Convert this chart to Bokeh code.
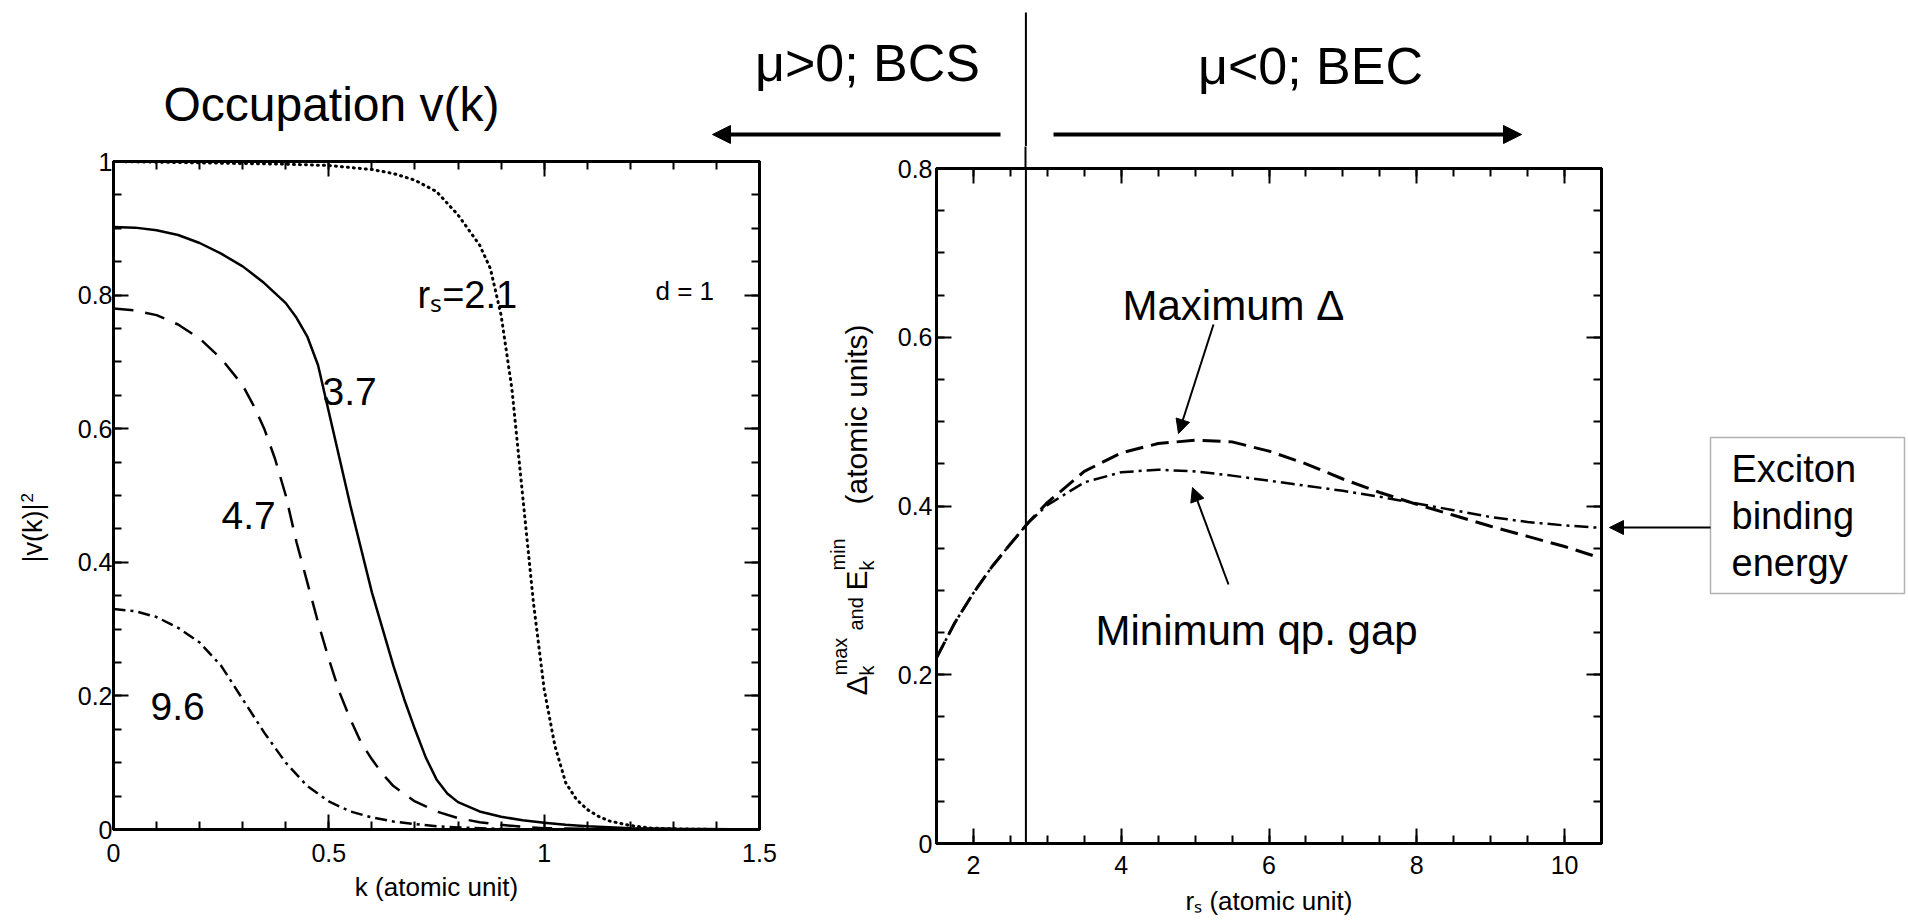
import math
from bokeh.plotting import figure
from bokeh.layouts import row, column
from bokeh.models import (Range1d, LinearAxis, SingleIntervalTicker, FixedTicker, CustomJSTickFormatter,
                          Label, Arrow, NormalHead, Span, BoxAnnotation)
from bokeh.embed import file_html
from bokeh.resources import INLINE

FONT = "Liberation Sans"

# ---------------- data: left panel, occupation |v(k)|^2 vs k ----------------
k_rs21 = [0.0, 0.1, 0.2, 0.3, 0.4, 0.5, 0.6, 0.65, 0.7, 0.75, 0.8, 0.85, 0.875, 0.9, 0.925,
          0.95, 0.975, 1.0, 1.025, 1.05, 1.075, 1.1, 1.125, 1.15, 1.2, 1.25, 1.3, 1.4, 1.5]
v_rs21 = [1.0, 0.999, 0.998, 0.997, 0.996, 0.994, 0.988, 0.982, 0.972, 0.955, 0.92, 0.875, 0.84, 0.77, 0.66,
          0.50, 0.34, 0.21, 0.125, 0.07, 0.045, 0.03, 0.02, 0.013, 0.006, 0.002, 0.001, 0.0, 0.0]

k_rs37 = [0.0, 0.05, 0.1, 0.15, 0.2, 0.25, 0.3, 0.35, 0.4, 0.425, 0.45, 0.475, 0.5, 0.525, 0.55, 0.575,
          0.6, 0.625, 0.65, 0.675, 0.7, 0.725, 0.75, 0.775, 0.8, 0.85, 0.9, 0.95, 1.0, 1.05, 1.1, 1.2, 1.3, 1.5]
v_rs37 = [0.902, 0.901, 0.897, 0.89, 0.878, 0.862, 0.843, 0.818, 0.788, 0.766, 0.738, 0.695, 0.625, 0.555, 0.485, 0.42,
          0.355, 0.30, 0.245, 0.195, 0.15, 0.108, 0.075, 0.054, 0.041, 0.027, 0.019, 0.014, 0.01, 0.007, 0.005, 0.002, 0.001, 0.0]

k_rs47 = [0.0, 0.05, 0.1, 0.15, 0.2, 0.25, 0.3, 0.325, 0.35, 0.375, 0.4, 0.425, 0.45, 0.475, 0.5,
          0.525, 0.55, 0.575, 0.6, 0.625, 0.65, 0.7, 0.75, 0.8, 0.85, 0.9, 0.95, 1.0, 1.1, 1.5]
v_rs47 = [0.78, 0.777, 0.77, 0.756, 0.735, 0.705, 0.665, 0.635, 0.60, 0.555, 0.50, 0.43, 0.37, 0.31, 0.255,
          0.205, 0.165, 0.13, 0.105, 0.083, 0.065, 0.042, 0.027, 0.017, 0.011, 0.007, 0.004, 0.002, 0.001, 0.0]

k_rs96 = [0.0, 0.05, 0.1, 0.15, 0.2, 0.25, 0.3, 0.35, 0.4, 0.45, 0.5, 0.55, 0.6, 0.65, 0.7, 0.75, 0.8, 0.9, 1.0, 1.5]
v_rs96 = [0.33, 0.327, 0.318, 0.302, 0.28, 0.245, 0.195, 0.145, 0.10, 0.065, 0.042, 0.027, 0.018, 0.012, 0.008,
          0.005, 0.003, 0.001, 0.0, 0.0]

# ---------------- data: right panel, gaps vs r_s ----------------
rs = [1.5, 1.75, 2.0, 2.25, 2.5, 2.75, 3.0, 3.5, 4.0, 4.5, 5.0, 5.5, 6.0, 6.5, 7.0, 7.5, 8.0, 8.5, 9.0, 9.5, 10.0, 10.5]
gap_max = [0.22, 0.262, 0.297, 0.328, 0.355, 0.381, 0.404, 0.441, 0.463, 0.474, 0.478, 0.476, 0.465, 0.45,
           0.432, 0.416, 0.402, 0.389, 0.376, 0.364, 0.352, 0.338]
gap_min = [0.22, 0.262, 0.297, 0.328, 0.355, 0.381, 0.401, 0.428, 0.44, 0.443, 0.441, 0.436, 0.43, 0.424,
           0.418, 0.411, 0.403, 0.395, 0.387, 0.381, 0.377, 0.374]
rs_boundary = 2.71     # mu = 0 : BCS / BEC crossover

left_curve_labels = ["3.7", "4.7", "9.6"]

# ---------------- layout constants (page pixels, origin top-left) ----------------
XY, XA, XL, XB, X1 = 60, 800, 880, 1604, 1906
HB, ROW_BOTTOM = 146, 918
LF_L, LF_R, LF_T, LF_B = 113, 759, 161, 829
RF_L, RF_R, RF_T, RF_B = 936, 1601, 168, 843
LX, LY = (0.0, 1.5), (0.0, 1.0)
RX, RY = (1.5, 10.5), (0.0, 0.8)
BL = 0.38   # baseline offset of rendered labels, in em
R90 = math.pi / 2


def lp(px, py):
    return (LX[0] + (px - LF_L) / (LF_R - LF_L) * (LX[1] - LX[0]),
            LY[0] + (LF_B - py) / (LF_B - LF_T) * (LY[1] - LY[0]))


def rp(px, py):
    return (RX[0] + (px - RF_L) / (RF_R - RF_L) * (RX[1] - RX[0]),
            RY[0] + (RF_B - py) / (RF_B - RF_T) * (RY[1] - RY[0]))


fmt = CustomJSTickFormatter(code="return Number(tick.toFixed(3)).toString();")


def style_axis(ax, ticker, show):
    ax.ticker = ticker
    ax.formatter = fmt
    ax.axis_line_width = 3
    ax.axis_line_color = "black"
    ax.major_tick_in = 15
    ax.major_tick_out = 0
    ax.minor_tick_in = 8
    ax.minor_tick_out = 0
    ax.major_tick_line_width = 2
    ax.minor_tick_line_width = 2
    ax.major_label_text_font = FONT
    ax.major_label_text_font_size = "25px"
    if show:
        ax.major_label_text_color = "black"
    else:
        ax.major_label_text_color = None
        ax.major_label_standoff = 0
    ax.axis_label_text_font = FONT
    ax.axis_label_text_font_style = "normal"
    ax.axis_label_text_font_size = "26px"
    ax.axis_label_text_color = "black"


def lab(p, x, y, text, size, align="left", angle=0.0):
    p.add_layout(Label(x=x, y=y, text=text, text_font=FONT, text_font_size=f"{size}px",
                       text_align=align, text_baseline="alphabetic", angle=angle, text_color="black"))


def canvas_fig(w, h, xr, yr):
    f = figure(width=w, height=h, x_range=xr, y_range=yr, min_border=0, toolbar_location=None,
               output_backend="svg", x_axis_location=None, y_axis_location=None)
    f.outline_line_color = None
    f.grid.visible = False
    return f


def rotated_title(f, pieces):
    # pieces: (text, font px, baseline x [page], start y [page]); text runs upwards
    for text, fs, bx, y0 in pieces:
        lab(f, bx - BL * fs, ROW_BOTTOM - y0, text, fs, angle=R90)


# ---------------- header (page coordinates, y downwards) ----------------
hdr = canvas_fig(X1, HB, Range1d(0, X1), Range1d(HB, 0))
for t, cx, base, fs in [("Occupation v(k)", 331, 122, 48), ("\u03bc>0; BCS", 867, 82, 52),
                        ("\u03bc<0; BEC", 1310, 85, 52)]:
    lab(hdr, cx, base - BL * fs, t, fs, align="center")
hdr.add_layout(Arrow(x_start=1000, y_start=134, x_end=712, y_end=134, line_width=4,
                     end=NormalHead(size=18, fill_color="black", line_color="black")))
hdr.add_layout(Arrow(x_start=1053, y_start=134, x_end=1521, y_end=134, line_width=4,
                     end=NormalHead(size=18, fill_color="black", line_color="black")))
x_line = RF_L + (rs_boundary - RX[0]) / (RX[1] - RX[0]) * (RF_R - RF_L)
hdr.segment(x0=[x_line], y0=[12], x1=[x_line], y1=[HB], line_color="black", line_width=2)

# ---------------- y-axis title of the left panel ----------------
ylab_l = canvas_fig(XY, ROW_BOTTOM - HB, Range1d(0, XY), Range1d(0, ROW_BOTTOM - HB))
rotated_title(ylab_l, [("|v(k)|", 27, 43, 562), ("2", 17, 33, 502)])

# ---------------- left panel ----------------
pl = figure(width=XA - XY, height=ROW_BOTTOM - HB, x_range=Range1d(*LX), y_range=Range1d(*LY),
            min_border_left=LF_L - XY, min_border_right=XA - LF_R,
            min_border_top=LF_T - HB, min_border_bottom=ROW_BOTTOM - LF_B,
            toolbar_location=None, output_backend="svg")
pl.grid.visible = False
pl.outline_line_color = "black"
pl.outline_line_width = 3
lxt = SingleIntervalTicker(interval=0.5, num_minor_ticks=5)
lyt = SingleIntervalTicker(interval=0.2, num_minor_ticks=4)
style_axis(pl.xaxis[0], lxt, True)
style_axis(pl.yaxis[0], lyt, True)
pl.xaxis[0].axis_label = "k (atomic unit)"
pl.xaxis[0].major_label_standoff = 14
pl.xaxis[0].axis_label_standoff = 7
pl.yaxis[0].major_label_standoff = 1
ax_top = LinearAxis(); style_axis(ax_top, lxt, False); pl.add_layout(ax_top, "above")
ax_rgt = LinearAxis(); style_axis(ax_rgt, lyt, False); pl.add_layout(ax_rgt, "right")

pl.line(k_rs21, v_rs21, line_color="black", line_width=3, line_dash="1 5", line_cap="round")
pl.line(k_rs37, v_rs37, line_color="black", line_width=2.5)
pl.line(k_rs47, v_rs47, line_color="black", line_width=2.5, line_dash="20 12")
pl.line(k_rs96, v_rs96, line_color="black", line_width=2.5, line_dash="12 5 3 5")

x, y = lp(417, 309 - BL * 38); lab(pl, x, y, "r\u209b=2.1", 38)
x, y = lp(655, 300 - BL * 26); lab(pl, x, y, "d = 1", 26)
for t, (px, py) in zip(left_curve_labels, [(322, 406), (221, 530), (150, 721)]):
    x, y = lp(px, py - BL * 39); lab(pl, x, y, t, 39)

# ---------------- y-axis title of the right panel ----------------
ylab = canvas_fig(XL - XA, ROW_BOTTOM - HB, Range1d(XA, XL), Range1d(0, ROW_BOTTOM - HB))
rotated_title(ylab, [("\u0394", 30, 867, 695), ("k", 20, 874, 675), ("max", 20, 847, 675),
                     ("and", 20, 863, 630), ("E", 30, 867, 590), ("k", 20, 874, 570),
                     ("min", 20, 845, 570), ("(atomic units)", 30, 867, 504)])

# ---------------- right panel ----------------
pr = figure(width=XB - XL, height=ROW_BOTTOM - HB, x_range=Range1d(*RX), y_range=Range1d(*RY),
            min_border_left=RF_L - XL, min_border_right=XB - RF_R,
            min_border_top=RF_T - HB, min_border_bottom=ROW_BOTTOM - RF_B,
            toolbar_location=None, output_backend="svg")
pr.grid.visible = False
pr.outline_line_color = "black"
pr.outline_line_width = 3
rxt = SingleIntervalTicker(interval=2, num_minor_ticks=4)
ryt = SingleIntervalTicker(interval=0.2, num_minor_ticks=4)
style_axis(pr.xaxis[0], rxt, True)
style_axis(pr.yaxis[0], ryt, True)
pr.xaxis[0].axis_label = "r\u209b (atomic unit)"
pr.xaxis[0].major_label_standoff = 12
pr.xaxis[0].axis_label_standoff = 9
pr.yaxis[0].major_label_standoff = 4
ax_top2 = LinearAxis(); style_axis(ax_top2, rxt, False); pr.add_layout(ax_top2, "above")
ax_rgt2 = LinearAxis(); style_axis(ax_rgt2, ryt, False); pr.add_layout(ax_rgt2, "right")
# the mu = 0 line continues above the frame: one outward tick at r_s = rs_boundary
ax_mu = LinearAxis(ticker=FixedTicker(ticks=[rs_boundary]), major_tick_out=RF_T - HB, major_tick_in=0,
                   minor_tick_out=0, minor_tick_in=0, axis_line_color=None, major_label_text_color=None,
                   major_label_standoff=0, major_tick_line_width=2, major_tick_line_color="black")
pr.add_layout(ax_mu, "above")

pr.add_layout(Span(location=rs_boundary, dimension="height", line_color="black", line_width=2))
pr.line(rs, gap_max, line_color="black", line_width=3, line_dash="18 8")
pr.line(rs, gap_min, line_color="black", line_width=2.5, line_dash="14 5 3 5")

x, y = rp(1122, 321 - BL * 42); lab(pr, x, y, "Maximum \u0394", 42)
x, y = rp(1095, 646 - BL * 42); lab(pr, x, y, "Minimum qp. gap", 42)
xs, ys = rp(1213, 324); xe, ye = rp(1178, 433)
pr.add_layout(Arrow(x_start=xs, y_start=ys, x_end=xe, y_end=ye, line_width=2,
                    end=NormalHead(size=14, fill_color="black", line_color="black")))
xs, ys = rp(1228, 584); xe, ye = rp(1192, 487)
pr.add_layout(Arrow(x_start=xs, y_start=ys, x_end=xe, y_end=ye, line_width=2,
                    end=NormalHead(size=14, fill_color="black", line_color="black")))

# ---------------- side annotation (own canvas, y upwards) ----------------
side = canvas_fig(X1 - XB, ROW_BOTTOM - HB, Range1d(XB, X1), Range1d(0, ROW_BOTTOM - HB))
side.add_layout(BoxAnnotation(left=1710, right=1904, top=ROW_BOTTOM - 437, bottom=ROW_BOTTOM - 593,
                              fill_color=None, line_color="black", line_width=1.5))
side.add_layout(Arrow(x_start=1710, y_start=ROW_BOTTOM - 527, x_end=1609, y_end=ROW_BOTTOM - 527,
                      line_width=2, end=NormalHead(size=14, fill_color="black", line_color="black")))
for t, base in zip(["Exciton", "binding", "energy"], [483, 530, 577]):
    lab(side, 1731, ROW_BOTTOM - (base - BL * 38), t, 38)

layout = column(hdr, row(column(ylab_l), pl, column(ylab), column(pr), column(side)))
open("out.html", "w").write(file_html(layout, INLINE))
